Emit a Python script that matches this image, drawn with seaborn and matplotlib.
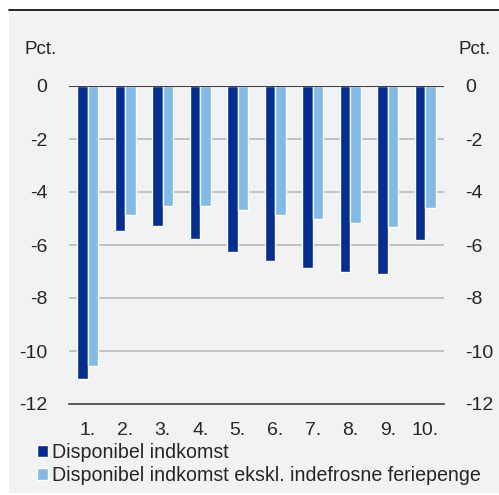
import pandas as pd
import matplotlib.pyplot as plt
import seaborn as sns
from matplotlib.patches import Rectangle
from matplotlib.lines import Line2D

# Data (pct.)
deciles = ["1.", "2.", "3.", "4.", "5.", "6.", "7.", "8.", "9.", "10."]
disp_income = [-11.04, -5.46, -5.29, -5.77, -6.25, -6.62, -6.88, -7.03, -7.08, -5.80]
disp_income_excl = [-10.55, -4.85, -4.51, -4.54, -4.68, -4.85, -5.03, -5.18, -5.33, -4.60]
series_names = ["Disponibel indkomst", "Disponibel indkomst ekskl. indefrosne feriepenge"]
y_ticks = [0, -2, -4, -6, -8, -10, -12]

df = pd.DataFrame({
    "decil": deciles * 2,
    "value": disp_income + disp_income_excl,
    "serie": [series_names[0]] * len(deciles) + [series_names[1]] * len(deciles),
})

sns.set_style("white")
plt.rcParams["font.family"] = ["Liberation Sans", "DejaVu Sans"]
plt.rcParams["font.size"] = 13.5

W, H = 499, 495
fig = plt.figure(figsize=(W / 100, H / 100), dpi=100, facecolor="white")

# grey panel and black top rule
fig.patches.append(Rectangle((9 / W, 1 - 493 / H), 1 - 9 / W, (493 - 10) / H,
                             transform=fig.transFigure, facecolor="#F2F2F2",
                             edgecolor="none", zorder=-10))
fig.lines.append(Line2D([9 / W, 1], [1 - 9.5 / H, 1 - 9.5 / H],
                        transform=fig.transFigure, color="black", lw=1.2))

ax = fig.add_axes([69 / W, 1 - 404 / H, (444 - 69) / W, (404 - 86) / H])
ax.set_facecolor("none")

sns.barplot(data=df, x="decil", y="value", hue="serie", order=deciles,
            hue_order=series_names, palette=["#002D96", "#80BAE6"],
            width=0.57, gap=0, saturation=1, ax=ax, zorder=3)

ax.set_ylim(-12, 0)
ax.set_xlim(-0.5, len(deciles) - 0.5)
ax.set_yticks(y_ticks)
ax.set_yticklabels([str(t) for t in y_ticks])
ax.set_xlabel("")
ax.set_ylabel("")

for t in y_ticks[1:-1]:
    ax.axhline(t, color="#BFBFBF", lw=1.3, zorder=1)
ax.axhline(0, color="#404040", lw=1.5, zorder=4)

for s in ["left", "right", "top"]:
    ax.spines[s].set_visible(False)
ax.spines["bottom"].set_color("#404040")
ax.spines["bottom"].set_linewidth(1.2)

ax.tick_params(axis="y", left=False, right=False, labelleft=True,
               labelright=True, pad=12, labelsize=14)
ax.tick_params(axis="x", which="major", length=0, pad=13, labelsize=14)
ax.set_xticks([i - 0.5 for i in range(len(deciles) + 1)], minor=True)
ax.tick_params(axis="x", which="minor", direction="out", length=3.5,
               width=1, color="#404040")

fig.text(24 / W, 1 - 49 / H, "Pct.", ha="left", va="center", fontsize=13.5)
fig.text(458 / W, 1 - 49 / H, "Pct.", ha="left", va="center", fontsize=13.5)

ax.get_legend().remove()
handles, labels = ax.get_legend_handles_labels()
fig.legend(handles, labels, loc="upper left", bbox_to_anchor=(37 / W, 1 - 443 / H),
           frameon=False, handlelength=0.55, handleheight=0.55, handletextpad=0.2,
           labelspacing=0.22, borderaxespad=0, borderpad=0, fontsize=14.1)

fig.savefig("out.png", dpi=100, facecolor="white")
